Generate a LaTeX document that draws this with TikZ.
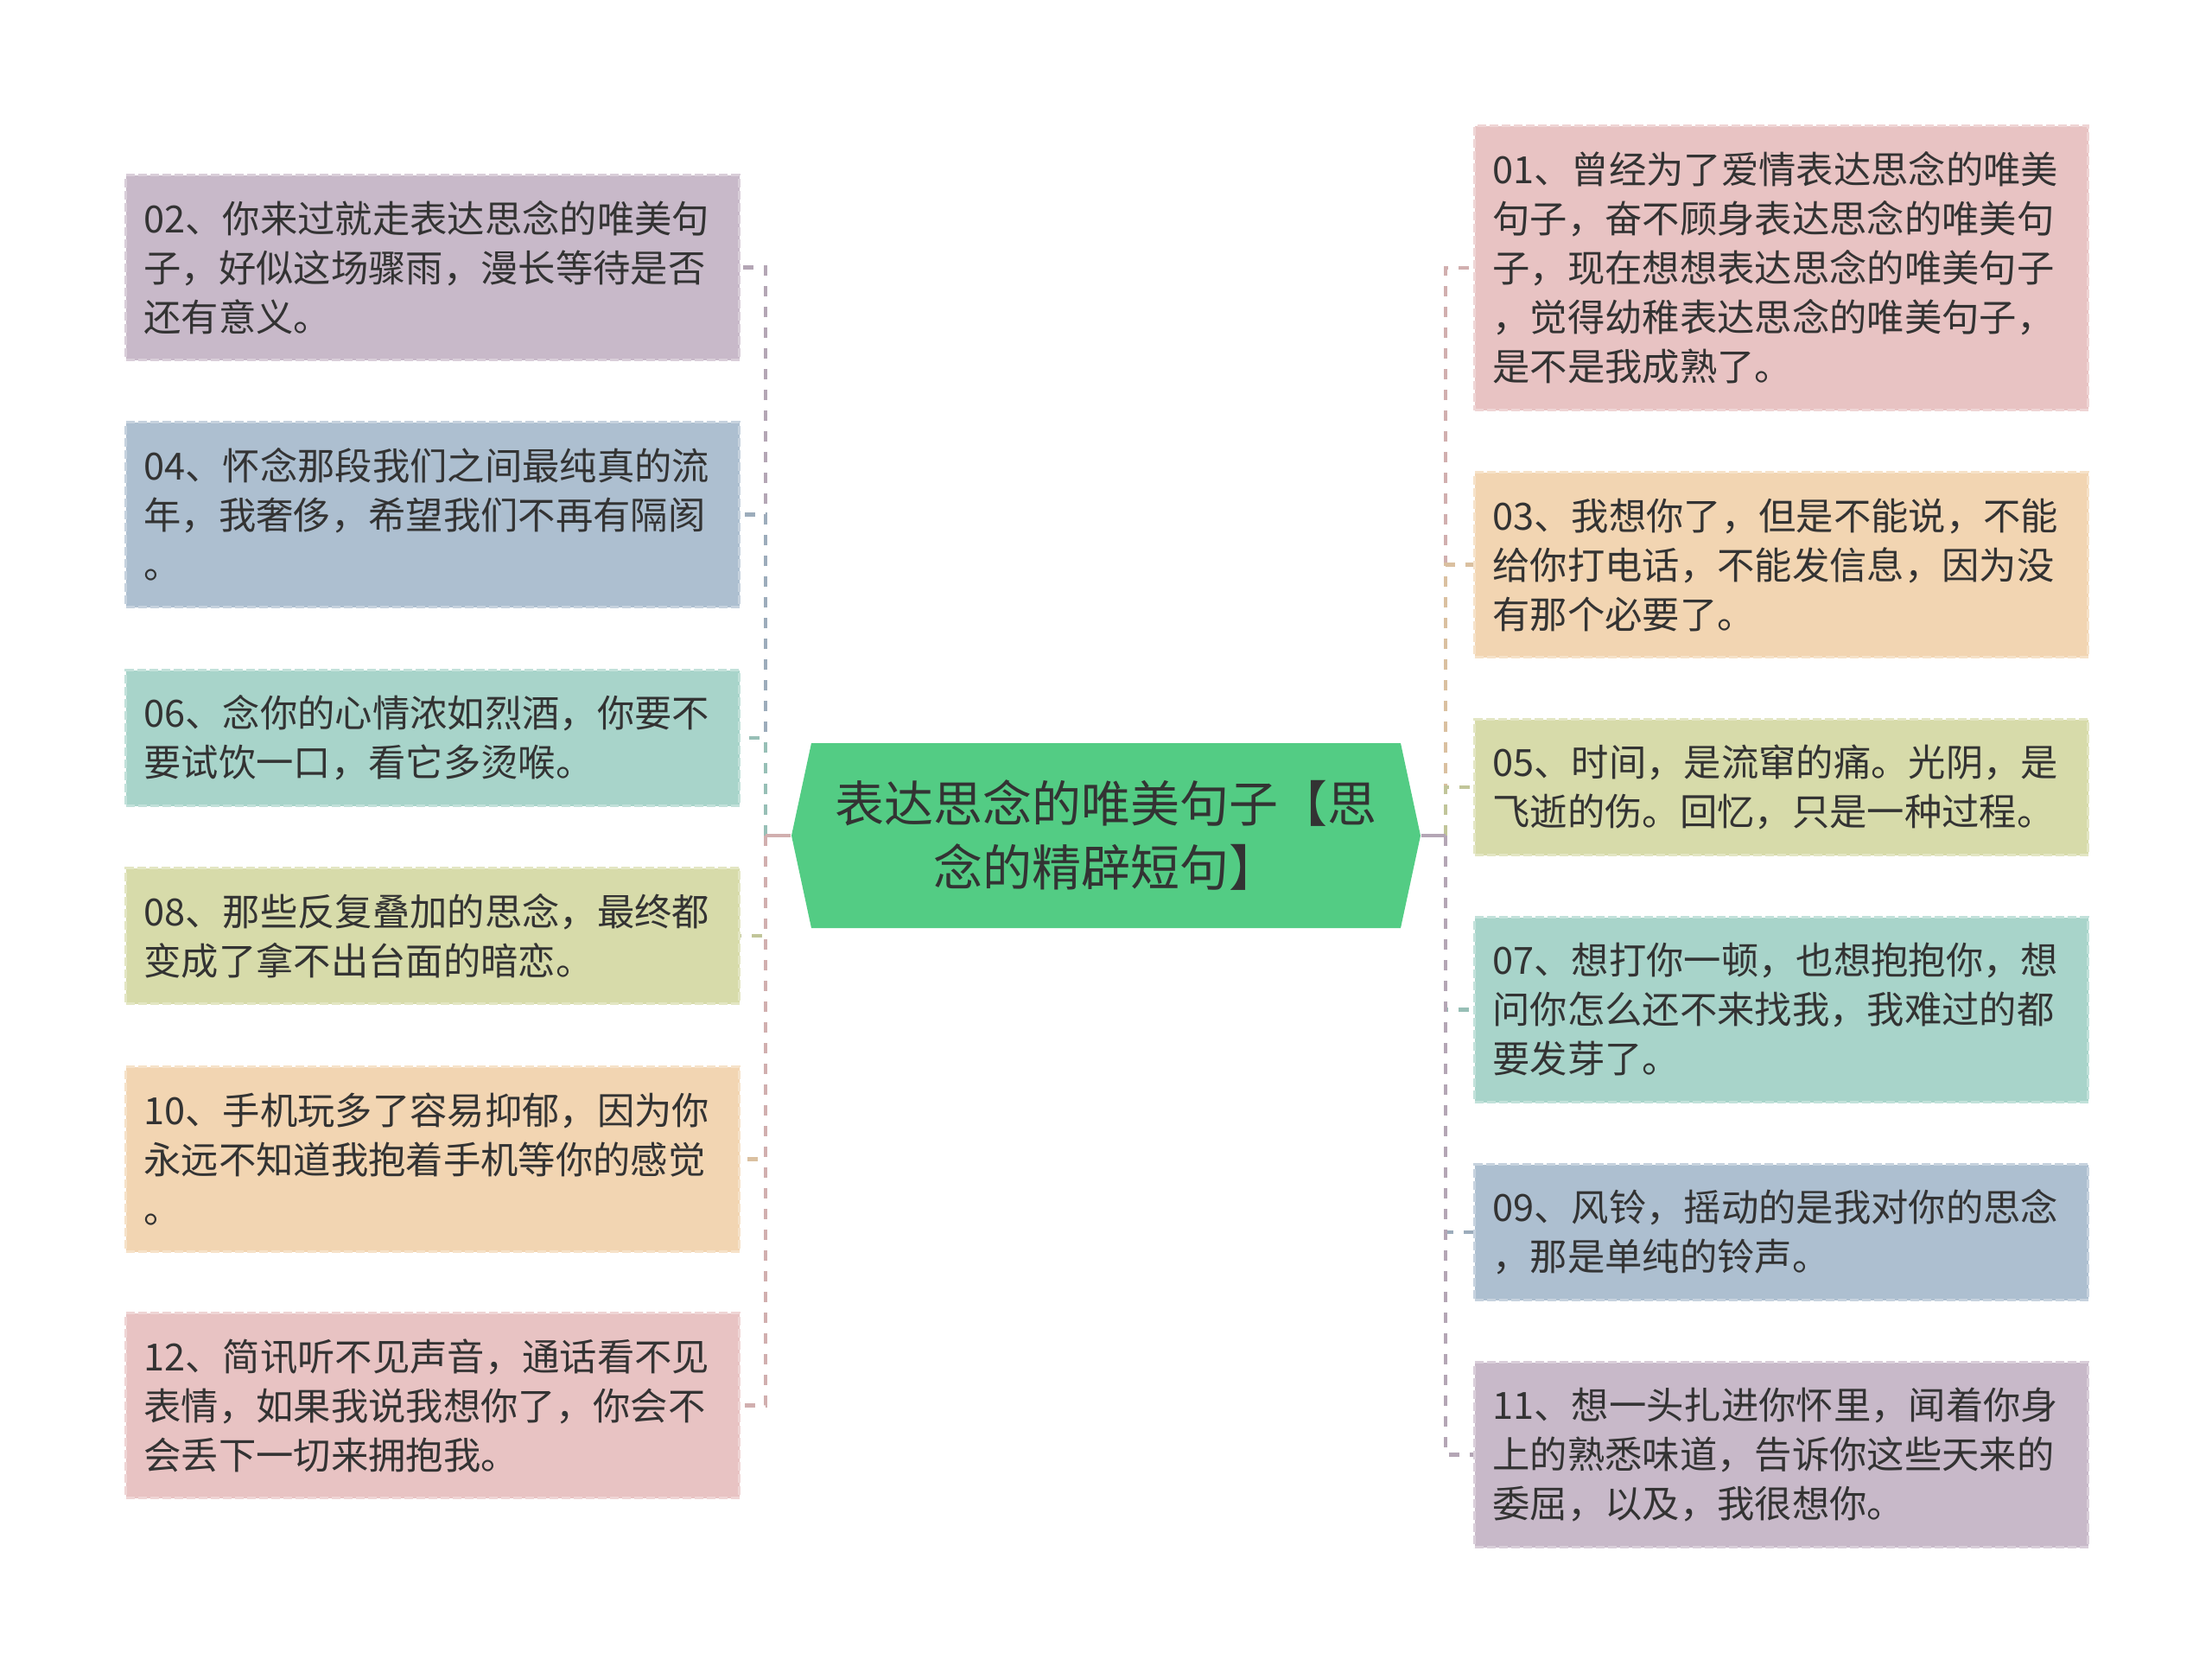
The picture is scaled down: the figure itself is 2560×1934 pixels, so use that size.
\documentclass[tikz,border=0pt]{standalone}
\usepackage{fontspec}
\setmainfont{Noto Sans CJK SC}
\definecolor{cpurple}{HTML}{C8B9C9}
\definecolor{cblue}{HTML}{ADBFD0}
\definecolor{cteal}{HTML}{A8D4CA}
\definecolor{colive}{HTML}{D7DBAA}
\definecolor{corange}{HTML}{F2D5B2}
\definecolor{cpink}{HTML}{E8C3C3}
\definecolor{cgreen}{HTML}{53CC84}
\definecolor{textc}{HTML}{333333}
\begin{document}
\begin{tikzpicture}[x=0.3pt,y=-0.3pt,
  leaf/.style={rectangle, anchor=north west, inner xsep=6.3pt, inner ysep=0pt,
    text width=200.4pt, align=left, text=textc,
    font=\fontsize{13pt}{17.1pt}\selectfont,
    fill=#1, draw=#1!70!white, line width=0.9pt, dash pattern=on 3pt off 1.2pt},
  lfive/.style={minimum height=98.7pt},
  lthree/.style={minimum height=64.2pt},
  ltwo/.style={minimum height=47.1pt},
  conn/.style={draw=#1!90!black, line width=1.4pt, dash pattern=on 3.6pt off 3.6pt},
  stub/.style={draw=#1!90!black, line width=1.4pt},
  hub/.style={rectangle, minimum width=218.4pt, minimum height=64.2pt, inner sep=0pt,
    align=center, text=textc, font=\fontsize{17.1pt}{22.2pt}\selectfont}]
\useasboundingbox (0,0) rectangle (2560,1934);
\fill[white] (0,0) rectangle (2560,1934);

% central topic
\fill[cgreen] (939,860) -- (1621,860) -- (1644,967) -- (1621,1074) -- (939,1074) -- (916,967) -- cycle;
\node[hub] (c) at (1280,967) {表达思念的唯美句子【思\\念的精辟短句】};

% left branches
\node[leaf=cpurple, lthree] (b02) at (144,201) {02、你来过就走表达思念的唯美句\\子，好似这场骤雨，漫长等待是否\\还有意义。};
\node[leaf=cblue, lthree] (b04) at (144,487) {04、怀念那段我们之间最纯真的流\\年，我奢侈，希望我们不再有隔阂\\。};
\node[leaf=cteal, ltwo] (b06) at (144,774) {06、念你的心情浓如烈酒，你要不\\要试饮一口，看它多烫喉。};
\node[leaf=colive, ltwo] (b08) at (144,1003) {08、那些反复叠加的思念，最终都\\变成了拿不出台面的暗恋。};
\node[leaf=corange, lthree] (b10) at (144,1233) {10、手机玩多了容易抑郁，因为你\\永远不知道我抱着手机等你的感觉\\。};
\node[leaf=cpink, lthree] (b12) at (144,1518) {12、简讯听不见声音，通话看不见\\表情，如果我说我想你了，你会不\\会丢下一切来拥抱我。};

% right branches
\node[leaf=cpink, lfive] (b01) at (1705,144) {01、曾经为了爱情表达思念的唯美\\句子，奋不顾身表达思念的唯美句\\子，现在想想表达思念的唯美句子\\，觉得幼稚表达思念的唯美句子，\\是不是我成熟了。};
\node[leaf=corange, lthree] (b03) at (1705,545) {03、我想你了，但是不能说，不能\\给你打电话，不能发信息，因为没\\有那个必要了。};
\node[leaf=colive, ltwo] (b05) at (1705,831) {05、时间，是流窜的痛。光阴，是\\飞逝的伤。回忆，只是一种过程。};
\node[leaf=cteal, lthree] (b07) at (1705,1060) {07、想打你一顿，也想抱抱你，想\\问你怎么还不来找我，我难过的都\\要发芽了。};
\node[leaf=cblue, ltwo] (b09) at (1705,1346) {09、风铃，摇动的是我对你的思念\\，那是单纯的铃声。};
\node[leaf=cpurple, lthree] (b11) at (1705,1575) {11、想一头扎进你怀里，闻着你身\\上的熟悉味道，告诉你这些天来的\\委屈，以及，我很想你。};

% junctions
\coordinate (lj) at (886,967);
\coordinate (rj) at (1673,967);

% left connectors
\draw[conn=cpurple] (lj) |- (b02.east);
\draw[conn=cblue]   (lj) |- (b04.east);
\draw[conn=cteal]   (lj) |- (b06.east);
\draw[conn=colive]  (lj) |- (b08.east);
\draw[conn=corange] (lj) |- (b10.east);
\draw[conn=cpink]   (lj) |- (b12.east);
\draw[stub=cpink] (c.west) -- (lj);

% right connectors
\draw[conn=cpink]   (rj) |- (b01.west);
\draw[conn=corange] (rj) |- (b03.west);
\draw[conn=colive]  (rj) |- (b05.west);
\draw[conn=cteal]   (rj) |- (b07.west);
\draw[conn=cblue]   (rj) |- (b09.west);
\draw[conn=cpurple] (rj) |- (b11.west);
\draw[stub=cpurple] (c.east) -- (rj);
\end{tikzpicture}
\end{document}
